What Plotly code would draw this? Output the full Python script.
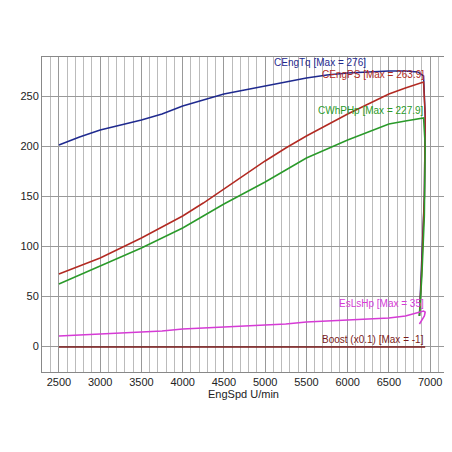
import plotly.graph_objects as go

# rpm sweep up, then the coast-down tail at the end of the pull
rpm = [2500, 2750, 3000, 3250, 3500, 3750, 4000, 4250, 4500, 4750, 5000, 5250, 5500,
       5750, 6000, 6250, 6500, 6700, 6850, 6920, 6940, 6930, 6900, 6870]
tq = [201, 209, 216, 221, 226, 232, 240, 246, 252, 256, 260, 264, 268,
      271, 273, 274, 275, 275, 274, 270, 230, 150, 80, 30]
ps = [72, 80, 88, 98, 108, 119, 130, 143, 157, 171, 185, 198, 210,
      221, 232, 242, 252, 258, 262, 264, 230, 150, 80, 30]
whp = [62, 71, 80, 89, 98, 108, 118, 130, 142, 153, 164, 176, 188,
       197, 206, 214, 222, 225, 227, 228, 200, 130, 70, 30]
lshp = [10, 11, 12, 13, 14, 15, 17, 18, 19, 20, 21, 22, 24,
        25, 26, 27, 28, 30, 33, 35, 34, 30, 26, 22]
boost = [-1] * len(rpm)

series = [
    ("CEngTq [Max = 276]", tq, "#1f2a8f", 276, 6250),
    ("CEngPS [Max = 263.9]", ps, "#b22a22", 263.9, 6950),
    ("CWhPHp [Max = 227.9]", whp, "#2a9a2a", 227.9, 6950),
    ("EsLsHp [Max = 35]", lshp, "#d63bd6", 35, 6950),
    ("Boost (x0.1) [Max = -1]", boost, "#7a1a1a", -1, 6950),
]

fig = go.Figure()
for name, ys, col, mx, lx in series:
    fig.add_trace(go.Scatter(x=rpm, y=ys, mode="lines", name=name,
                             line=dict(color=col, width=1.5)))
    fig.add_annotation(x=lx, y=mx, text=name, showarrow=False,
                       xanchor="right", yanchor="bottom",
                       font=dict(color=col, size=10, family="Arial"))

fig.update_layout(
    width=452, height=452,
    paper_bgcolor="white", plot_bgcolor="white",
    showlegend=False,
    margin=dict(l=32, r=15, t=49, b=88),
    font=dict(family="Arial", size=11, color="#222"),
    xaxis=dict(range=[2295, 7180], tickvals=list(range(2500, 7001, 500)),
               showgrid=True, gridcolor="#999", gridwidth=1,
               minor=dict(dtick=100, showgrid=True, gridcolor="#bbb"),
               title=dict(text="EngSpd U/min", standoff=2, font=dict(size=11)),
               showline=True, linecolor="#888", mirror=True, zeroline=False),
    yaxis=dict(range=[-26, 289], tickvals=[0, 50, 100, 150, 200, 250],
               showgrid=True, gridcolor="#999", zeroline=False,
               showline=True, linecolor="#888", mirror=True),
)

fig.write_html("out.html")
